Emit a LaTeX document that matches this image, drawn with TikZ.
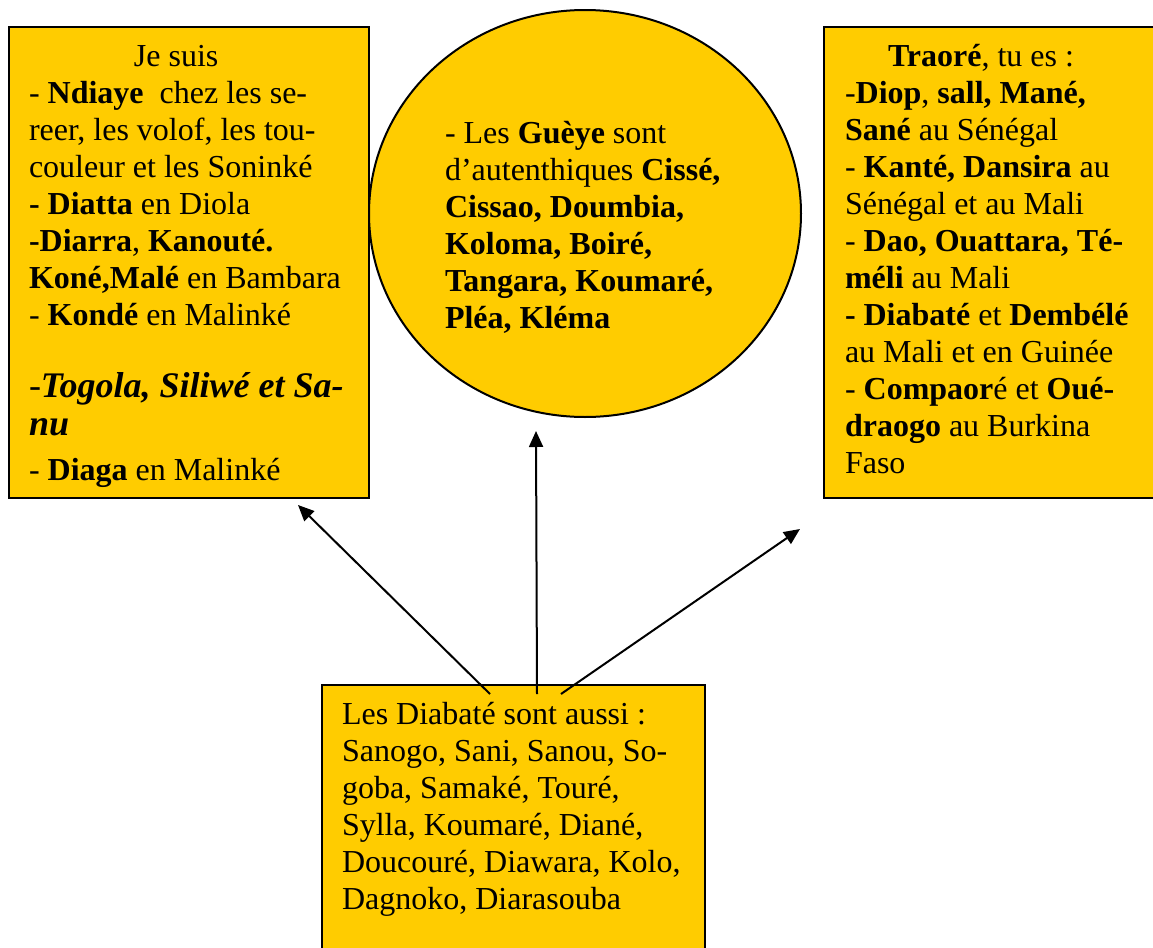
\documentclass[tikz,border=0pt]{standalone}
\usepackage{fontspec}
\setmainfont{Liberation Serif}
\usepackage{tikz}
\usetikzlibrary{arrows.meta, shapes.geometric}
\definecolor{boxgold}{RGB}{255,204,0}

\begin{document}
\begin{tikzpicture}[x=0.5pt, y=-0.5pt,
        namebox/.style={draw, line width=1pt, fill=boxgold, rectangle, anchor=north west,
            inner xsep=10pt, inner ysep=0pt, align=flush left, text height=19.5pt,
            font={\fontsize{16pt}{18.5pt}\selectfont}},
        nameoval/.style={draw, line width=1pt, fill=boxgold, ellipse, inner sep=0pt,
            align=flush left, font={\fontsize{16pt}{18.5pt}\selectfont}},
        linkarrow/.style={line width=1pt, -{Triangle[length=8pt, width=7pt]}}]
            \useasboundingbox (0,0) rectangle (1153,948);
            \node[namebox, text width=160pt, text depth=216pt] (jesuis) at (8,26) {%
                \hspace*{52.5pt}Je suis\\
                - \textbf{Ndiaye}\ \ chez les se-\\
                reer, les volof, les tou-\\
                couleur et les Soninké\\
                \textbf{- Diatta} en Diola\\
                \textbf{-Diarra}, \textbf{Kanouté.}\\
                \textbf{Koné,Malé} en Bambara\\
                - \textbf{Kondé} en Malinké\\[17.5pt]
                {\fontsize{18pt}{18.5pt}\selectfont\textit{-\textbf{Togola, Siliwé et Sa-}}}\\[0.5pt]
                {\fontsize{18pt}{18.5pt}\selectfont\textit{\textbf{nu}}}\\[4pt]
                - \textbf{Diaga} en Malinké};
            \node[nameoval, minimum width=216pt, minimum height=203.5pt, text width=140pt,
                text height=12pt, text depth=82.5pt] (gueye) at (585,213.5) {%
                - Les \textbf{Guèye} sont\\
                d’autenthiques \textbf{Cissé,}\\
                \textbf{Cissao, Doumbia,}\\
                \textbf{Koloma, Boiré,}\\
                \textbf{Tangara, Koumaré,}\\
                \textbf{Pléa, Kléma}};
            \node[namebox, text width=160pt, text depth=216pt, inner xsep=10.5pt] (traore) at (823,26) {%
                \hspace*{21.5pt}\textbf{Traoré}, tu es :\\
                -\textbf{Diop}, \textbf{sall, Mané,}\\
                \textbf{Sané} au Sénégal\\
                - \textbf{Kanté, Dansira} au\\
                Sénégal et au Mali\\
                - \textbf{Dao, Ouattara, Té-}\\
                \textbf{méli} au Mali\\
                \textbf{- Diabaté} et \textbf{Dembélé}\\
                au Mali et en Guinée\\
                - \textbf{Compaor}é et \textbf{Oué-}\\
                \textbf{draogo} au Burkina\\
                Faso};
            \node[namebox, text width=171.5pt, text depth=116.5pt] (diabate) at (321,684) {%
                Les Diabaté sont aussi :\\
                Sanogo, Sani, Sanou, So-\\
                goba, Samaké, Touré,\\
                Sylla, Koumaré, Diané,\\
                Doucouré, Diawara, Kolo,\\
                Dagnoko, Diarasouba};
            \coordinate (fromL) at ([xshift=-11.75pt, yshift=-5pt]diabate.north);
            \coordinate (fromM) at ([xshift=11.75pt, yshift=-5pt]diabate.north);
            \coordinate (fromR) at ([xshift=23.75pt, yshift=-5pt]diabate.north);
            \coordinate (toL) at ([xshift=-36pt, yshift=-3pt]jesuis.south east);
            \coordinate (toM) at ([xshift=-24.5pt, yshift=-6.5pt]gueye.south);
            \coordinate (toR) at ([xshift=-11.5pt, yshift=-15pt]traore.south west);
            \draw[linkarrow] (fromL) -- (toL);
            \draw[linkarrow] (fromM) -- (toM);
            \draw[linkarrow] (fromR) -- (toR);
\end{tikzpicture}
\end{document}
